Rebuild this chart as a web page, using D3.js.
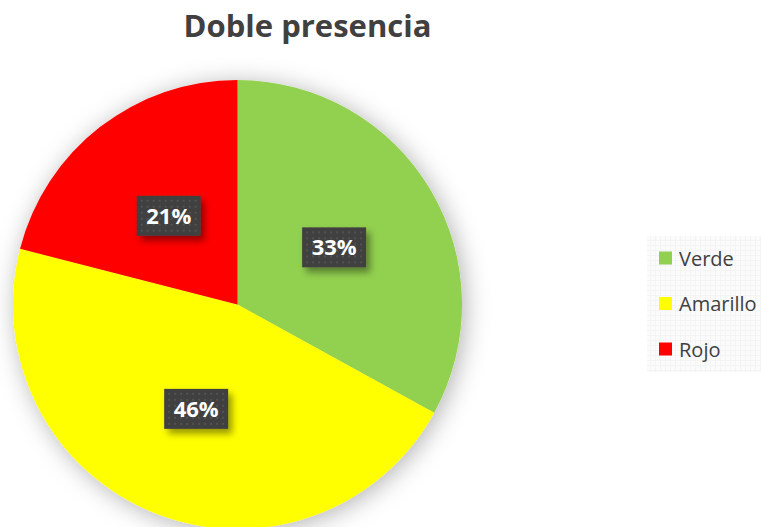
<!DOCTYPE html>
<html>
<head>
<meta charset="utf-8">
<script src="https://cdn.jsdelivr.net/npm/d3@7"></script>
<style>
  body { margin: 0; background: #fff; }
  svg { display: block; }
</style>
</head>
<body>
<div id="chart"></div>
<script>
const categories = ['Verde', 'Amarillo', 'Rojo'];
const values = [33, 46, 21];
const colors = ['#92D050', '#FFFF00', '#FF0000'];
const title = 'Doble presencia';

const width = 761, height = 527;
const cx = 237.5, cy = 304.5, radius = 224.5;

const svg = d3.select('#chart').append('svg')
    .attr('width', width)
    .attr('height', height);

const defs = svg.append('defs');

// soft shadow round the pie
const pieShadow = defs.append('filter')
    .attr('id', 'pieShadow')
    .attr('x', '-20%').attr('y', '-20%')
    .attr('width', '140%').attr('height', '140%');
pieShadow.append('feDropShadow')
    .attr('dx', 3).attr('dy', 3)
    .attr('stdDeviation', 12)
    .attr('flood-color', '#000')
    .attr('flood-opacity', 0.3);

const boxShadow = defs.append('filter')
    .attr('id', 'boxShadow')
    .attr('x', '-30%').attr('y', '-30%')
    .attr('width', '170%').attr('height', '180%');
boxShadow.append('feDropShadow')
    .attr('dx', 4).attr('dy', 5)
    .attr('stdDeviation', 3.5)
    .attr('flood-color', '#000')
    .attr('flood-opacity', 0.4);

// dotted fill of the data labels
const dots = defs.append('pattern')
    .attr('id', 'dots')
    .attr('width', 6).attr('height', 6)
    .attr('patternUnits', 'userSpaceOnUse');
dots.append('rect').attr('width', 6).attr('height', 6).attr('fill', '#404040');
dots.append('rect').attr('x', 2).attr('y', 2).attr('width', 2).attr('height', 2).attr('fill', '#525252');

// faint grid behind the legend
const grid = defs.append('pattern')
    .attr('id', 'grid')
    .attr('width', 5).attr('height', 5)
    .attr('patternUnits', 'userSpaceOnUse');
grid.append('rect').attr('width', 5).attr('height', 5).attr('fill', '#fbfbfb');
grid.append('path').attr('d', 'M0 0.5H5M0.5 0V5').attr('stroke', '#f4f4f4').attr('stroke-width', 1);

svg.append('text')
    .attr('x', 307.5)
    .attr('y', 37)
    .attr('text-anchor', 'middle')
    .attr('font-family', 'Open Sans, sans-serif')
    .attr('font-weight', 'bold')
    .attr('font-size', 31)
    .attr('fill', '#404040')
    .text(title);

const data = categories.map((c, i) => ({name: c, value: values[i], color: colors[i]}));

const pie = d3.pie().sort(null).value(d => d.value);
const arc = d3.arc().innerRadius(0).outerRadius(radius);
const arcs = pie(data);

const g = svg.append('g').attr('transform', `translate(${cx},${cy})`);

g.append('g')
    .attr('filter', 'url(#pieShadow)')
    .selectAll('path')
    .data(arcs)
    .enter().append('path')
    .attr('d', arc)
    .attr('fill', d => d.data.color);

const total = d3.sum(values);
const boxW = 64, boxH = 40;

const labels = g.selectAll('g.label')
    .data(arcs)
    .enter().append('g')
    .attr('class', 'label')
    .attr('transform', d => 'translate(' + arc.centroid(d) + ')');

labels.append('rect')
    .attr('x', -boxW / 2).attr('y', -boxH / 2)
    .attr('width', boxW).attr('height', boxH)
    .attr('fill', 'url(#dots)')
    .attr('filter', 'url(#boxShadow)');

labels.append('text')
    .attr('text-anchor', 'middle')
    .attr('dy', '0.36em')
    .attr('font-family', 'Open Sans, sans-serif')
    .attr('font-weight', 'bold')
    .attr('font-size', 22)
    .attr('fill', '#fff')
    .text(d => Math.round(d.data.value / total * 100) + '%');

// legend
const legend = svg.append('g');
legend.append('rect')
    .attr('x', 647).attr('y', 236)
    .attr('width', 114).attr('height', 136)
    .attr('fill', 'url(#grid)');

const ly = d3.scalePoint().domain(categories).range([258, 349]);

const items = legend.selectAll('g.item')
    .data(data)
    .enter().append('g')
    .attr('class', 'item')
    .attr('transform', d => `translate(659,${ly(d.name)})`);

items.append('rect')
    .attr('x', 0).attr('y', -6.5)
    .attr('width', 13).attr('height', 13)
    .attr('fill', d => d.color);

items.append('text')
    .attr('x', 20)
    .attr('y', 7.5)
    .attr('font-family', 'Open Sans, sans-serif')
    .attr('font-size', 20)
    .attr('fill', '#404040')
    .text(d => d.name);
</script>
</body>
</html>
